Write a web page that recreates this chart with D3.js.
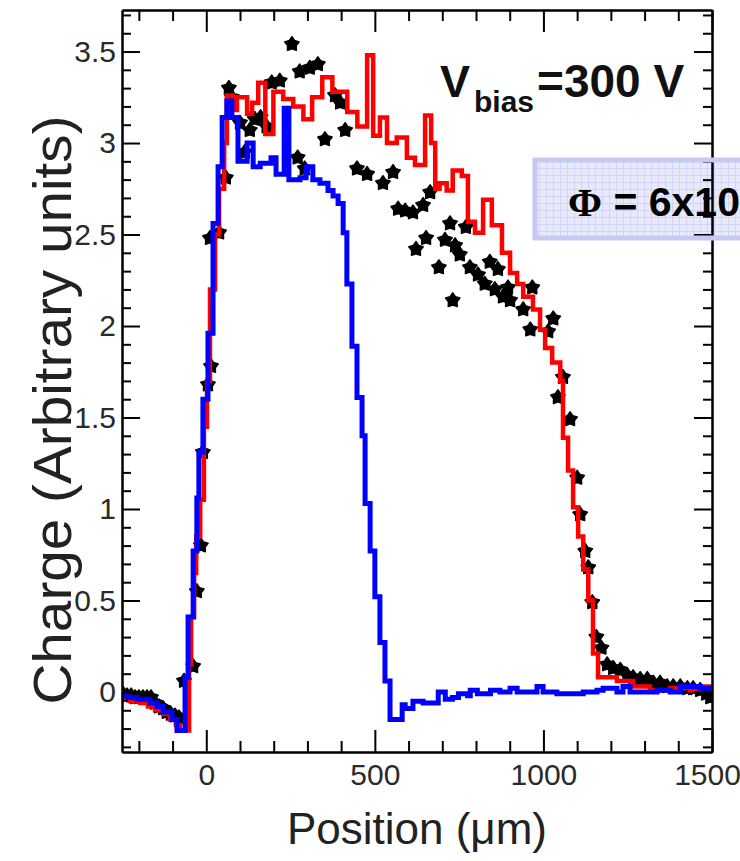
<!DOCTYPE html>
<html>
<head>
<meta charset="utf-8">
<script src="https://cdn.jsdelivr.net/npm/d3@7"></script>
<style>
  body { margin: 0; background: #fff; }
  svg text { font-family: "Liberation Sans", Arial, Helvetica, sans-serif; }
</style>
</head>
<body>
<svg id="chart" width="740" height="861"></svg>
<script>
/* blue histogram: bin start position (um) and charge */
const bluePos = [-250, -232, -206, -167, -146, -128, -102, -87, -63, -54, -39, -28, -22, -10, 5, 20, 35, 47, 61, 76,
  94, 121, 139, 160, 192, 207, 231, 245, 278, 296, 316, 337, 361, 376, 391, 406, 417, 432, 447, 462,
  471, 486, 500, 515, 530, 545, 581, 590, 613, 643, 688, 709, 730, 748, 775, 783, 804, 843, 871, 901,
  922, 981, 999, 1040, 1118, 1159, 1177, 1218, 1236, 1257, 1337, 1376, 1406, 1465];
const blueCharge = [-0.02, -0.03, -0.04, -0.06, -0.08, -0.11, -0.15, -0.21, 0.08, 0.41, 0.77, 1.06, 1.31, 1.60, 1.96, 2.56, 2.87, 3.14, 3.23, 3.14,
  2.90, 3.00, 2.87, 2.89, 2.92, 2.83, 3.19, 2.80, 2.81, 2.87, 2.80, 2.78, 2.74, 2.71, 2.67, 2.51, 2.23, 1.89, 1.61, 1.40,
  1.03, 0.77, 0.52, 0.27, 0.06, -0.15, -0.07, -0.09, -0.05, -0.06, 0.00, -0.04, -0.03, -0.01, -0.02, 0.01, -0.01, 0.01, 0.00, 0.02,
  0.00, 0.03, 0.00, -0.01, 0.00, 0.01, 0.02, 0.00, 0.03, 0.00, 0.01, 0.00, 0.03, 0.02];

/* red histogram */
const redPos = [-250, -226, -196, -173, -152, -128, -108, -90, -78, -51, -45, -36, -30, -18, -7, 2, 11, 26, 38, 53,
  61, 79, 91, 121, 136, 154, 175, 199, 228, 258, 288, 314, 344, 374, 418, 448, 477, 495, 515, 536,
  565, 595, 619, 649, 667, 679, 692, 713, 731, 758, 776, 797, 821, 847, 877, 901, 922, 940, 969, 990,
  1005, 1026, 1050, 1058, 1073, 1088, 1103, 1118, 1133, 1147, 1162, 1218, 1266, 1316, 1376, 1435, 1465];
const redCharge = [-0.03, -0.05, -0.06, -0.08, -0.10, -0.12, -0.15, -0.18, -0.21, 0.15, 0.41, 0.65, 0.85, 1.05, 1.45, 1.70, 2.20, 2.50, 2.75, 3.00,
  3.26, 3.18, 3.25, 3.16, 3.22, 3.33, 3.05, 3.28, 3.24, 3.20, 3.13, 3.25, 3.36, 3.28, 3.17, 3.09, 3.48, 3.04, 3.14, 3.00,
  3.03, 2.92, 2.88, 3.15, 3.00, 2.75, 2.78, 2.74, 2.85, 2.82, 2.57, 2.51, 2.69, 2.55, 2.40, 2.29, 2.23, 2.16, 2.09, 1.98,
  1.88, 1.80, 1.70, 1.39, 1.21, 1.01, 0.85, 0.67, 0.50, 0.21, 0.08, 0.06, 0.03, 0.01, 0.02, 0.01, 0.03];

/* black star points */
const starPos = [-247, -235, -223, -211, -200, -188, -176, -164, -152, -140, -128, -117, -105, -93, -81,
  -66, -39, -28, -16, -10, 5, 14, 11, 38, 58, 67, 76, 100, 114, 129, 144, 161, 179, 194, 218, 254,
  271, 292, 277, 307, 331, 352, 382, 397, 412, 447, 477, 524, 554, 569, 590, 613, 643, 664, 622, 652,
  690, 708, 738, 723, 770, 752, 731, 782, 806, 826, 841, 856, 880, 901, 865, 895, 940, 961, 967, 1014,
  1029, 1058, 1043, 1079, 1100, 1109, 1124, 1133, 1145, 1157, 1172, 1189, 1207, 1228, 1249, 1266, 1287,
  1308, 1326, 1346, 1367, 1385, 1406, 1427, 1444, 1465, 1483, 1495];
const starCharge = [-0.01, -0.02, -0.02, -0.03, -0.03, -0.03, -0.03, -0.03, -0.06, -0.08, -0.09, -0.11, -0.12, -0.13, -0.14,
  0.06, 0.14, 0.55, 0.80, 1.31, 1.68, 1.78, 2.48, 2.51, 2.81, 3.30, 3.25, 3.11, 2.95, 3.07, 3.13, 3.14, 3.09, 3.33, 3.34, 3.54,
  2.92, 2.86, 3.39, 3.41, 3.43, 3.02, 3.26, 3.22, 3.07, 2.86, 2.83, 2.78, 2.84, 2.64, 2.63, 2.62, 2.66, 2.73, 2.42, 2.48,
  2.32, 2.47, 2.44, 2.56, 2.54, 2.39, 2.14, 2.32, 2.28, 2.23, 2.35, 2.20, 2.16, 2.14, 2.31, 2.21, 2.09, 1.98, 2.21, 1.97,
  2.04, 1.72, 1.61, 1.49, 1.17, 0.97, 0.77, 0.68, 0.49, 0.30, 0.24, 0.15, 0.13, 0.12, 0.09, 0.08, 0.07,
  0.07, 0.05, 0.05, 0.03, 0.03, 0.03, 0.02, 0.02, 0.01, -0.01, -0.03];

/* axis ticks */
const xMajor = [0, 500, 1000, 1500];
const xMinor = [-200, -100, 100, 200, 300, 400, 600, 700, 800, 900, 1100, 1200, 1300, 1400];
const yMajor = [0, 0.5, 1, 1.5, 2, 2.5, 3, 3.5];
const yMinor = [-0.3, -0.2, -0.1, 0.1, 0.2, 0.3, 0.4, 0.6, 0.7, 0.8, 0.9, 1.1, 1.2, 1.3, 1.4, 1.6, 1.7, 1.8, 1.9,
  2.1, 2.2, 2.3, 2.4, 2.6, 2.7, 2.8, 2.9, 3.1, 3.2, 3.3, 3.4, 3.6, 3.7];

const padL = 122, padR = 712, padT = 10, padB = 752;

const svg = d3.select('#chart');
const x = d3.scaleLinear().domain([-250, 1500]).range([padL, padR]);
const y = d3.scaleLinear().domain([-0.328, 3.727]).range([padB, padT]);

const defs = svg.append('defs');
defs.append('clipPath').attr('id', 'plot-clip')
  .append('rect').attr('x', padL).attr('y', padT)
  .attr('width', padR - padL).attr('height', padB - padT);

const pat = defs.append('pattern').attr('id', 'boxfill')
  .attr('width', 7).attr('height', 7).attr('patternUnits', 'userSpaceOnUse');
pat.append('rect').attr('width', 7).attr('height', 7).attr('fill', '#e8e9fb');
pat.append('path').attr('d', 'M0 0.5H7M0.5 0V7').attr('stroke', '#d2d5f7').attr('stroke-width', 1);

/* Phi box fill goes under the frame */
const boxX = 535, boxY = 160, boxW = 230, boxH = 78;
svg.append('rect').attr('x', boxX).attr('y', boxY).attr('width', boxW).attr('height', boxH)
  .attr('fill', 'url(#boxfill)');

const plot = svg.append('g').attr('clip-path', 'url(#plot-clip)');

function histPoints(pos, val) {
  const pts = pos.map((p, i) => [p, val[i]]);
  pts.push([1500, val[val.length - 1]]);
  return pts;
}
const stepLine = d3.line()
  .x(d => x(d[0]))
  .y(d => y(d[1]))
  .curve(d3.curveStepAfter);

/* chunky five point star, like the ROOT full star marker */
const fatStar = {
  draw(ctx, size) {
    const R = Math.sqrt(size), r = R * 0.6;
    for (let i = 0; i < 10; i++) {
      const a = -Math.PI / 2 + i * Math.PI / 5;
      const rad = (i % 2) ? r : R;
      if (i === 0) ctx.moveTo(rad * Math.cos(a), rad * Math.sin(a));
      else ctx.lineTo(rad * Math.cos(a), rad * Math.sin(a));
    }
    ctx.closePath();
  }
};
const star = d3.symbol().type(fatStar).size(56);
plot.append('g').selectAll('path.star')
  .data(starPos.map((p, i) => [p, starCharge[i]]))
  .enter().append('path')
    .attr('class', 'star')
    .attr('d', star)
    .attr('transform', d => 'translate(' + x(d[0]) + ',' + y(d[1]) + ')')
    .attr('fill', '#000')
    .attr('stroke', '#000')
    .attr('stroke-width', 1.6)
    .attr('stroke-linejoin', 'round');

plot.append('path')
  .datum(histPoints(redPos, redCharge))
  .attr('d', stepLine)
  .attr('fill', 'none')
  .attr('stroke', '#ff0000')
  .attr('stroke-width', 4.5);

plot.append('path')
  .datum(histPoints(bluePos, blueCharge))
  .attr('d', stepLine)
  .attr('fill', 'none')
  .attr('stroke', '#0000ff')
  .attr('stroke-width', 5);

/* frame with ticks on all four sides */
function addAxis(gen, tx, ty) {
  const g = svg.append('g').attr('transform', 'translate(' + tx + ',' + ty + ')').call(gen);
  g.select('.domain').attr('stroke', '#000').attr('stroke-width', 2);
  g.selectAll('.tick line').attr('stroke', '#000').attr('stroke-width', 2);
  g.selectAll('.tick text').attr('fill', '#2a2a2a').attr('font-size', 30)
    .attr('font-family', '"Liberation Sans", Arial, sans-serif');
  return g;
}
const xAxisG = addAxis(d3.axisBottom(x).tickValues(xMajor).tickSizeInner(-22).tickSizeOuter(0).tickPadding(12).tickFormat(d => d), 0, padB);
xAxisG.selectAll('.tick text').filter(d => d === 1500).attr('dx', -5);
addAxis(d3.axisBottom(x).tickValues(xMinor).tickSizeInner(-11).tickSizeOuter(0).tickFormat(''), 0, padB);
addAxis(d3.axisTop(x).tickValues(xMajor).tickSizeInner(-22).tickSizeOuter(0).tickFormat(''), 0, padT);
addAxis(d3.axisTop(x).tickValues(xMinor).tickSizeInner(-11).tickSizeOuter(0).tickFormat(''), 0, padT);
addAxis(d3.axisLeft(y).tickValues(yMajor).tickSizeInner(-18).tickSizeOuter(0).tickPadding(6).tickFormat(d => d), padL, 0);
addAxis(d3.axisLeft(y).tickValues(yMinor).tickSizeInner(-9).tickSizeOuter(0).tickFormat(''), padL, 0);
addAxis(d3.axisRight(y).tickValues(yMajor).tickSizeInner(-18).tickSizeOuter(0).tickFormat(''), padR, 0);
addAxis(d3.axisRight(y).tickValues(yMinor).tickSizeInner(-9).tickSizeOuter(0).tickFormat(''), padR, 0);

/* Phi box border over the frame */
svg.append('rect').attr('x', boxX).attr('y', boxY).attr('width', boxW).attr('height', boxH)
  .attr('fill', 'none').attr('stroke', '#c6c9f4').attr('stroke-width', 5);

const phi = svg.append('text').attr('x', 568).attr('y', 216)
  .attr('font-size', 41).attr('font-weight', 'bold').attr('fill', '#000');
phi.append('tspan').attr('font-family', '"Liberation Serif", "Times New Roman", serif').text('Φ');
phi.append('tspan').text(' = 6x10');

/* V_bias label */
const vb = svg.append('text').attr('x', 440).attr('y', 97)
  .attr('font-size', 45).attr('font-weight', 'bold').attr('fill', '#111');
vb.append('tspan').text('V');
vb.append('tspan').attr('font-size', 30).attr('dx', 4).attr('dy', 15).text('bias');
vb.append('tspan').attr('font-size', 46).attr('dx', 3).attr('dy', -15).text('=300 V');

/* axis titles */
svg.append('text')
  .attr('x', (padL + padR) / 2).attr('y', 844)
  .attr('text-anchor', 'middle')
  .attr('font-size', 44).attr('fill', '#222')
  .text('Position (μm)');

svg.append('text')
  .attr('transform', 'translate(71,410) rotate(-90) scale(1.07,1)')
  .attr('text-anchor', 'middle')
  .attr('font-size', 53).attr('fill', '#222')
  .text('Charge (Arbitrary units)');
</script>
</body>
</html>
